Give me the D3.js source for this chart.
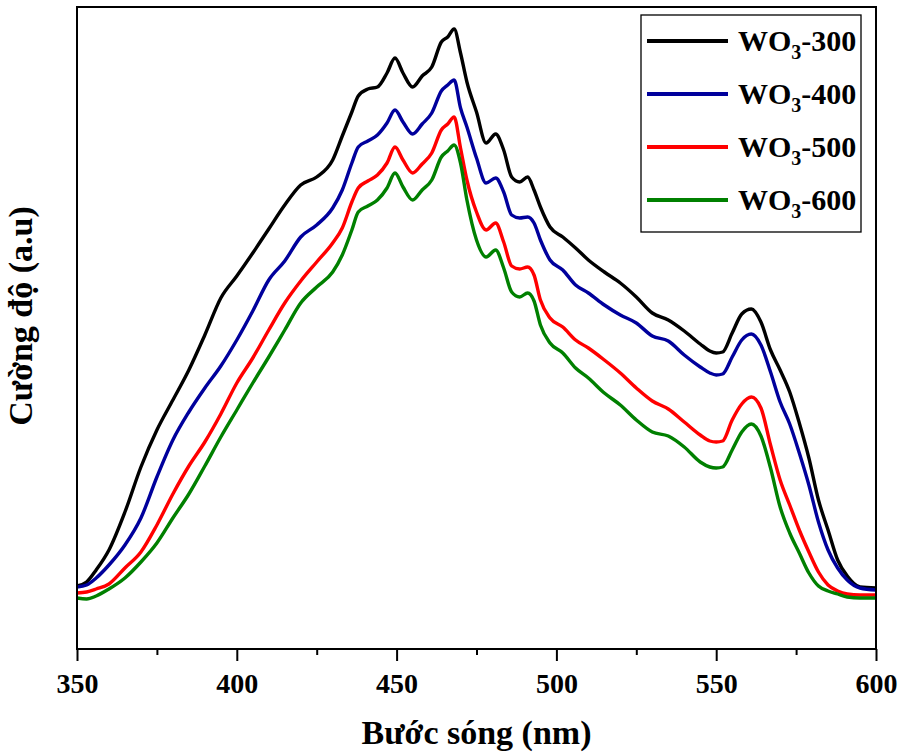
<!DOCTYPE html>
<meta charset="utf-8">
<style>
body { margin: 0; background: #fff; }
svg { display: block; }
text { font-family: "Liberation Serif", "Times New Roman", serif; font-weight: bold; fill: #000; }
.line { fill: none; stroke-width: 3.4px; stroke-linejoin: round; }
</style>
<body>
<div id="chart"></div>
<script src="https://d3js.org/d3.v7.min.js"></script>
<script>

// wavelength grid (nm), shared by all series
var wavelength = [350, 353, 356, 360, 365, 370, 375, 380, 385, 390, 395, 400, 405, 410, 415, 420, 425, 430,
  433, 436, 438, 441, 444, 447, 449.5, 452, 455, 458, 461, 464, 466, 468, 470, 472, 475, 478, 481, 483.5,
  486, 488.5, 491, 493, 495, 498, 502, 506, 510, 515, 520, 525, 530, 535, 540, 545, 548, 550, 552, 555,
  558, 561, 564, 567, 570, 573, 576, 579, 582, 585, 588, 591, 595, 600];

// intensities (a.u.)
var wo3_300 = [63, 67, 79, 99, 137, 182, 219, 249, 279, 314, 351, 373, 396, 420, 444, 464, 472, 489,
  513, 537, 553, 560, 562, 576, 591, 576, 562, 573, 582, 607, 612, 620, 596, 567, 537, 506, 515, 499,
  472, 467, 472, 459, 442, 422, 412, 401, 389, 377, 366, 352, 336, 329, 318, 305, 298, 296, 297, 316,
  335, 340, 327, 299, 279, 257, 226, 191, 149, 119, 89, 73, 62, 61];
var wo3_400 = [62, 64, 71, 84, 104, 131, 172, 209, 237, 261, 283, 309, 338, 369, 388, 412, 424, 441,
  459, 486, 502, 508, 514, 526, 539, 527, 515, 525, 536, 558, 564, 569, 541, 522, 491, 466, 471, 457,
  434, 431, 432, 426, 409, 389, 379, 364, 356, 344, 334, 326, 313, 308, 294, 282, 276, 274, 275, 292,
  309, 315, 304, 277, 247, 225, 196, 164, 127, 99, 81, 69, 61, 59];
var wo3_500 = [56, 57, 60, 65, 81, 97, 124, 155, 183, 207, 235, 266, 291, 319, 346, 368, 387, 406,
  421, 447, 461, 468, 474, 486, 502, 489, 476, 485, 496, 519, 525, 532, 501, 469, 437, 419, 426, 407,
  383, 380, 382, 374, 349, 331, 322, 309, 301, 289, 276, 261, 248, 240, 227, 214, 208, 207, 208, 229,
  245, 252, 241, 204, 169, 144, 119, 97, 77, 64, 58, 55, 54, 54];
var wo3_600 = [51, 50, 53, 60, 71, 87, 106, 131, 155, 183, 212, 239, 266, 292, 319, 346, 362, 377,
  394, 419, 437, 443, 449, 461, 476, 462, 449, 459, 469, 492, 498, 504, 486, 449, 409, 392, 399, 381,
  357, 352, 356, 348, 324, 306, 296, 281, 271, 256, 244, 229, 217, 213, 202, 187, 182, 181, 182, 199,
  217, 225, 213, 181, 142, 116, 96, 76, 63, 58, 55, 52, 51, 51];

var seriesNames = ["300", "400", "500", "600"];
var seriesColors = ["#000000", "#00009c", "#ff0000", "#008000"];
var seriesValues = [wo3_300, wo3_400, wo3_500, wo3_600];

var xMajor = [350, 400, 450, 500, 550, 600];
var xMinor = [375, 425, 475, 525, 575];

var margin = {top: 7, right: 26, bottom: 104, left: 77},
    width = 902 - margin.left - margin.right,
    height = 753 - margin.top - margin.bottom;

var x = d3.scaleLinear().domain([350, 600]).range([0, width]);
var y = d3.scaleLinear().domain([0, 642]).range([height, 0]);

var svg = d3.select("#chart").append("svg")
    .attr("width", 902)
    .attr("height", 753)
  .append("g")
    .attr("transform", "translate(" + margin.left + "," + margin.top + ")");

// curves
var line = d3.line()
    .x(function(d) { return x(d[0]); })
    .y(function(d) { return y(d[1]); })
    .curve(d3.curveMonotoneX);

seriesValues.forEach(function(vals, i) {
  var pts = wavelength.map(function(w, j) { return [w, vals[j]]; });
  svg.append("path")
    .datum(pts)
    .attr("class", "line")
    .attr("stroke", seriesColors[i])
    .attr("d", line);
});

// frame
svg.append("rect")
    .attr("width", width)
    .attr("height", height)
    .attr("fill", "none")
    .attr("stroke", "#000")
    .attr("stroke-width", 2);

// x axis, major + minor ticks
var xAxis = svg.append("g")
    .attr("transform", "translate(0," + height + ")")
    .call(d3.axisBottom(x).tickValues(xMajor).tickSizeInner(12).tickSizeOuter(0).tickFormat(d3.format("d")));
xAxis.select(".domain").remove();
xAxis.selectAll("line").attr("stroke-width", 2);
xAxis.selectAll("text")
    .attr("y", 44).attr("dy", null)
    .style("font-size", "28px");

var xMinorAxis = svg.append("g")
    .attr("transform", "translate(0," + height + ")")
    .call(d3.axisBottom(x).tickValues(xMinor).tickSizeInner(6).tickSizeOuter(0).tickFormat(""));
xMinorAxis.select(".domain").remove();
xMinorAxis.selectAll("line").attr("stroke-width", 2);

// axis titles
svg.append("text")
    .attr("x", width / 2)
    .attr("y", height + 95)
    .attr("text-anchor", "middle")
    .style("font-size", "34px")
    .text("Bước sóng (nm)");

svg.append("text")
    .attr("transform", "translate(" + (-45) + "," + (height / 2 - 12) + ") rotate(-90)")
    .attr("text-anchor", "middle")
    .style("font-size", "34px")
    .text("Cường độ (a.u)");

// legend
var legend = svg.append("g")
    .attr("transform", "translate(" + (641 - margin.left) + "," + (15 - margin.top) + ")");

legend.append("rect")
    .attr("width", 220)
    .attr("height", 217)
    .attr("fill", "#fff")
    .attr("stroke", "#000")
    .attr("stroke-width", 1.3);

seriesNames.forEach(function(name, i) {
  var row = legend.append("g").attr("transform", "translate(0," + (26 + i * 53) + ")");
  row.append("line")
    .attr("x1", 6).attr("x2", 87)
    .attr("stroke", seriesColors[i])
    .attr("stroke-width", 4);
  var t = row.append("text")
    .attr("x", 97)
    .attr("y", 10)
    .style("font-size", "30px");
  t.append("tspan").text("WO");
  t.append("tspan").attr("dy", 8).style("font-size", "20px").text("3");
  t.append("tspan").attr("dy", -8).text("-" + name);
});

</script>
</body>
